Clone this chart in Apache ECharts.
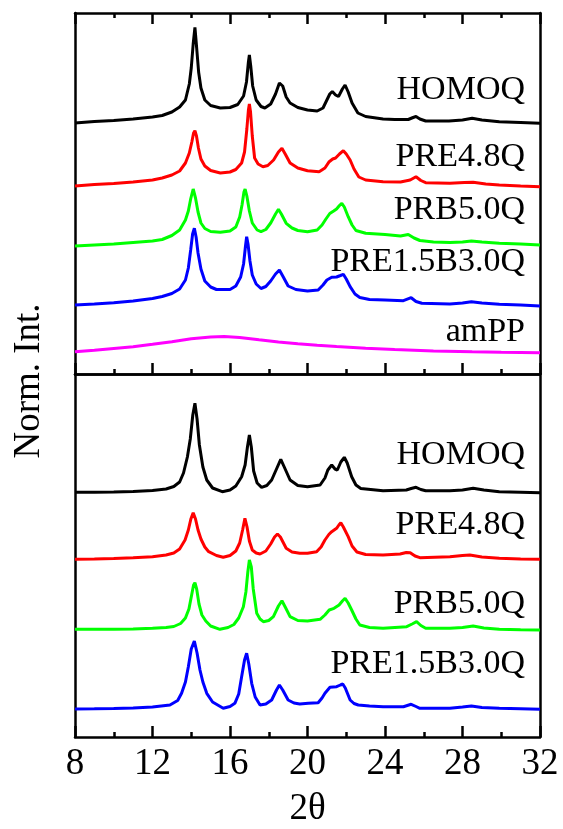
<!DOCTYPE html>
<html>
<head>
<meta charset="utf-8">
<script src="https://cdn.jsdelivr.net/npm/echarts@6/dist/echarts.min.js"></script>
<style>
html,body{margin:0;padding:0;background:#fff;}
#chart{width:563px;height:829px;}
</style>
</head>
<body>
<div id="chart"></div>
<script>
// ---- data (2θ, normalized intensity incl. vertical offset) ----
const xTicks = [8, 12, 16, 20, 24, 28, 32];
const seriesNames = ['HOMOQ', 'PRE4.8Q', 'PRB5.0Q', 'PRE1.5B3.0Q', 'amPP'];
const seriesColors = ['#000000', '#ff0000', '#00ff00', '#0000ff', '#ff00ff'];

// upper panel
const topHOMOQ = [[8,251],[9,252.5],[10,253.5],[11,255],[12,257],[12.5,258.5],[13,262],[13.4,267],[13.7,274],[13.9,290],[14,306],[14.1,330],[14.19,346.5],[14.28,326],[14.38,302],[14.5,286],[14.7,274],[15,268.5],[15.5,266],[16,266.5],[16.4,269.5],[16.7,278],[16.85,292],[16.95,312],[17,319],[17.07,308],[17.17,288],[17.35,274],[17.6,267.5],[17.8,266],[18.1,270],[18.35,280],[18.55,291],[18.62,292.5],[18.72,288],[18.9,277],[19.1,271],[19.5,266.5],[20,264],[20.5,263],[20.8,266],[21,274],[21.15,280],[21.28,282.5],[21.45,279],[21.6,277.5],[21.8,285],[21.94,289],[22.1,282],[22.3,271],[22.6,261],[23,257.5],[23.9,255],[24.5,254.5],[25.2,254.5],[25.45,256.5],[25.6,257.5],[25.8,255],[26.1,253],[27.3,253],[28,254],[28.5,255.7],[29,254],[29.9,252.3],[31,251.5],[32,250.7]];
const topPRE48 = [[8,188],[9,189.5],[10,190.5],[11,192],[12,194],[12.5,196],[13,199],[13.4,203],[13.7,211],[13.9,221],[14.03,232],[14.12,241],[14.19,243.3],[14.27,238],[14.37,226],[14.5,215],[14.7,208],[15,203.5],[15.5,201],[16,202],[16.3,204.5],[16.6,211],[16.75,222],[16.87,245],[16.95,264],[17,270],[17.06,262],[17.15,238],[17.27,216],[17.45,210],[17.7,207.3],[17.95,208.5],[18.25,214],[18.5,222],[18.68,225.7],[18.85,220],[19.1,211],[19.5,206],[20,203.3],[20.6,202.3],[20.9,206],[21.12,212.3],[21.3,215],[21.45,216],[21.65,220],[21.85,223.3],[22,220],[22.2,214],[22.4,205],[22.65,197],[23,194],[23.9,192.3],[24.8,192],[25.3,194],[25.6,197.3],[25.85,193.5],[26.1,191.3],[27.35,190.7],[28.1,191.5],[28.55,191.8],[29.2,190],[29.9,189],[31,188],[32,187.3]];
const topPRB50 = [[8,128],[9,129],[10,130],[11,131.5],[12,133],[12.5,134.5],[13,138.5],[13.4,144],[13.7,154],[13.85,163],[13.97,175],[14.1,185],[14.22,176],[14.35,162],[14.5,151],[14.7,145.5],[15,142.5],[15.5,141.7],[16,143],[16.3,147],[16.5,157],[16.62,169],[16.72,182],[16.78,185],[16.87,178],[17,163],[17.15,151],[17.4,144],[17.6,142.3],[17.85,144.5],[18.1,151],[18.35,160],[18.5,164.7],[18.65,160],[18.9,150.7],[19.2,146],[19.5,143.5],[20,142.3],[20.5,144],[20.75,149],[20.95,155],[21.15,160.5],[21.35,163],[21.5,165],[21.65,168.5],[21.77,170.7],[21.9,167],[22.1,157.3],[22.3,149],[22.5,143.5],[23,140.7],[24,139.5],[24.8,138],[25.2,139.5],[25.5,136],[25.8,133.5],[26.5,132],[27.35,131.5],[28,132],[28.46,133],[29,132],[29.9,130.7],[31,130],[32,129]];
const topPRE15B30 = [[8,69],[9,70],[10,71.3],[11,73],[12,75.5],[12.5,77.5],[13,80.5],[13.4,85],[13.7,94],[13.85,106],[13.97,124],[14.07,140],[14.16,145.7],[14.25,137],[14.35,121],[14.5,105],[14.7,93],[15,87],[15.3,84.5],[16,84.5],[16.3,88],[16.55,97],[16.7,110],[16.8,128],[16.86,137.3],[16.93,130],[17.03,113],[17.15,99],[17.35,90],[17.6,85.5],[17.85,87.5],[18.1,93],[18.35,100],[18.55,104],[18.75,97],[19,88],[19.4,84.5],[20,83],[20.55,84],[20.8,89],[21,94],[21.25,96.7],[21.5,97],[21.7,98.5],[21.85,99.7],[22,95],[22.2,87.3],[22.45,80],[22.7,76.5],[23.2,74.5],[24,74],[24.95,73.3],[25.35,76.3],[25.6,72.5],[25.9,70.7],[27.35,70],[28,71],[28.46,72.3],[29,71],[29.9,69.7],[31,69],[32,68]];
const topAmPP = [[8,22.3],[9,23.7],[10,25.5],[11,27.3],[12,29.7],[13,32.3],[14,35.3],[15,37],[15.7,37.5],[16.5,36.5],[17.5,34.2],[18.5,32],[19.5,30.2],[20.5,28.7],[21.5,27.5],[23,25.8],[24.5,24.5],[26.5,23],[28.5,22.2],[30,21.8],[32,21.3]];

// lower panel
const botHOMOQ = [[8,244.7],[9,244.8],[10,245],[11,245.5],[12,246.5],[12.7,248],[13.1,250.5],[13.4,255],[13.6,264],[13.8,280],[13.95,298],[14.08,322],[14.19,333.7],[14.3,318],[14.42,292],[14.6,270],[14.8,257],[15.1,249],[15.6,245.3],[16,247],[16.3,251],[16.6,260.3],[16.78,272],[16.9,290],[17,302],[17.1,290],[17.22,266],[17.4,254],[17.63,249.7],[17.9,251.5],[18.15,257],[18.4,268],[18.62,277.7],[18.8,270],[19.1,257],[19.5,251.5],[20,250.3],[20.65,252],[20.9,259],[21.05,267],[21.25,272],[21.42,268],[21.54,267],[21.72,275],[21.9,279.7],[22.05,274],[22.28,260.3],[22.5,252],[22.75,248.5],[23.9,246.3],[25.1,247],[25.35,248.5],[25.6,249.7],[25.85,247.5],[26.1,246.3],[27.35,246.3],[28,247],[28.55,248.7],[29.1,247],[29.9,245.3],[31,244.8],[32,244.3]];
const botPRE48 = [[8,177.7],[9,178],[10,178.4],[11,179.3],[12,180.3],[12.7,182],[13.1,184],[13.4,188],[13.68,197],[13.85,207],[13.98,218],[14.1,224.3],[14.22,218],[14.35,207],[14.5,198],[14.7,190],[14.9,185.3],[15.3,181.5],[15.65,179.7],[16,181.5],[16.3,186],[16.5,194],[16.65,207],[16.77,218.7],[16.88,210],[17,196],[17.15,187],[17.35,184],[17.55,183],[17.85,186],[18.1,193],[18.3,200],[18.45,203],[18.6,200],[18.9,188.7],[19.2,185],[19.6,183.7],[20,183.7],[20.47,185.3],[20.7,190],[20.9,197],[21.1,202.5],[21.25,205.3],[21.5,208.7],[21.62,212],[21.72,214.3],[21.85,210],[22.1,200.3],[22.3,191],[22.55,185],[23,182.5],[23.9,182],[24.78,183],[25.1,184.5],[25.3,184.3],[25.55,181],[25.8,179.3],[27.35,180.3],[28,181.5],[28.38,182],[29,180],[29.9,178.7],[31,178],[32,177.7]];
const botPRB50 = [[8,107.7],[9,107.7],[10,107.8],[11,108],[12,108.7],[12.7,109.5],[13.1,110.5],[13.45,113.5],[13.7,119],[13.88,128],[14.02,142],[14.12,152],[14.19,154.3],[14.28,148],[14.4,133],[14.55,122],[14.75,116],[15,111],[15.48,107.7],[15.9,109.5],[16.2,112.5],[16.45,119],[16.69,130.3],[16.82,145],[16.92,165],[17,177],[17.03,179],[17.1,170],[17.2,148],[17.38,123.7],[17.55,118],[17.72,115.3],[18,116.5],[18.24,120.3],[18.5,131],[18.68,136.3],[18.85,130],[19.1,120.3],[19.5,116.5],[20,116],[20.65,117.7],[20.9,122],[21.12,127],[21.37,128.7],[21.63,132],[21.8,136],[21.94,138.7],[22.1,134],[22.28,127],[22.5,118],[22.7,112],[23.2,109.5],[23.9,108.7],[25.12,110.3],[25.4,113],[25.63,115.3],[25.85,111.5],[26.1,108.7],[27.35,108.7],[28,109.5],[28.55,111],[29.1,109],[29.9,107.7],[31,107.3],[32,107]];
const botPRE15B30 = [[8,28],[9,28.2],[10,28.5],[11,29],[12,30],[12.9,32],[13.3,36.5],[13.5,43.7],[13.7,55],[13.85,70.3],[14,88],[14.16,96],[14.3,84],[14.45,67],[14.6,55],[14.8,43.7],[15.1,35],[15.65,28.7],[16,30.5],[16.25,33.7],[16.45,43],[16.6,60.3],[16.75,77],[16.86,83.7],[16.97,73],[17.12,53.7],[17.3,40],[17.55,32],[17.85,33],[18.15,37],[18.4,47],[18.55,52],[18.72,47],[19,37],[19.3,34],[19.6,33],[20.04,33.7],[20.55,34.3],[20.75,39],[20.9,43.7],[21.16,49.7],[21.5,50.3],[21.7,52],[21.82,53],[21.95,49],[22.2,37],[22.4,33.5],[22.62,32],[23.2,31],[23.9,30.3],[24.95,30.3],[25.35,32.7],[25.6,30.5],[25.8,28.7],[27.35,28.7],[28,30],[28.46,31],[29,29.5],[29.9,28.7],[31,28.2],[32,27.7]];

const topPanel = [topHOMOQ, topPRE48, topPRB50, topPRE15B30, topAmPP];
const botPanel = [botHOMOQ, botPRE48, botPRB50, botPRE15B30];

// ---- chart ----
const FONT = '"Liberation Serif", "Times New Roman", serif';
const chart = echarts.init(document.getElementById('chart'), null, {renderer: 'canvas'});

function xAx(grid, pos, opts) {
  return Object.assign({
    type: 'value', gridIndex: grid, position: pos, min: 8, max: 32, interval: 4,
    axisLine: {show: true, onZero: false, lineStyle: {color: '#000', width: 2.5}},
    axisTick: {show: true, inside: true, length: 11, lineStyle: {color: '#000', width: 2.5}},
    minorTick: {show: true, splitNumber: 2, length: 5, lineStyle: {color: '#000', width: 2.5}},
    axisLabel: {show: false},
    splitLine: {show: false}
  }, opts || {});
}
function yAx(grid, pos, max) {
  return {
    type: 'value', gridIndex: grid, position: pos, min: 0, max: max,
    axisLine: {show: true, onZero: false, lineStyle: {color: '#000', width: 2.5}},
    axisTick: {show: false}, axisLabel: {show: false}, splitLine: {show: false}
  };
}

const series = [];
topPanel.forEach((d, i) => series.push({
  type: 'line', name: seriesNames[i] + ' top', xAxisIndex: 0, yAxisIndex: 0, data: d,
  showSymbol: false, symbol: 'none', animation: false,
  lineStyle: {color: seriesColors[i], width: 3}
}));
botPanel.forEach((d, i) => series.push({
  type: 'line', name: seriesNames[i] + ' bottom', xAxisIndex: 2, yAxisIndex: 2, data: d,
  showSymbol: false, symbol: 'none', animation: false,
  lineStyle: {color: seriesColors[i], width: 3}
}));

const labelTop = [90, 157.5, 210, 262, 332.5];
const labelBot = [455, 524.7, 604, 664];
const graphics = [];
labelTop.forEach((y, i) => graphics.push({type: 'text', x: 525, y: y, style: {
  text: seriesNames[i], font: '34px ' + FONT, fill: '#000', textAlign: 'right', textVerticalAlign: 'middle', verticalAlign: 'middle'}}));
labelBot.forEach((y, i) => graphics.push({type: 'text', x: 525, y: y, style: {
  text: seriesNames[i], font: '34px ' + FONT, fill: '#000', textAlign: 'right', textVerticalAlign: 'middle', verticalAlign: 'middle'}}));
graphics.push({type: 'text', x: 29, y: 381, rotation: Math.PI / 2, style: {
  text: 'Norm. Int.', font: '37px ' + FONT, fill: '#000', textAlign: 'center', textVerticalAlign: 'middle', verticalAlign: 'middle'}});

chart.setOption({
  animation: false,
  backgroundColor: '#fff',
  grid: [
    {left: 75, top: 13, width: 465, height: 361, containLabel: false},
    {left: 75, top: 374, width: 465, height: 363, containLabel: false}
  ],
  xAxis: [
    xAx(0, 'bottom'),
    xAx(0, 'top'),
    xAx(1, 'bottom', {
      axisLabel: {show: true, margin: 9, color: '#000', fontFamily: FONT, fontSize: 37,
        customValues: xTicks},
      name: '2θ', nameLocation: 'middle', nameGap: 54,
      nameTextStyle: {color: '#000', fontFamily: FONT, fontSize: 37}
    }),
    xAx(1, 'top', {axisTick: {show: false}, minorTick: {show: false}})
  ],
  yAxis: [yAx(0, 'left', 361), yAx(0, 'right', 361), yAx(1, 'left', 363), yAx(1, 'right', 363)],
  series: series,
  graphic: graphics
});
</script>
</body>
</html>
